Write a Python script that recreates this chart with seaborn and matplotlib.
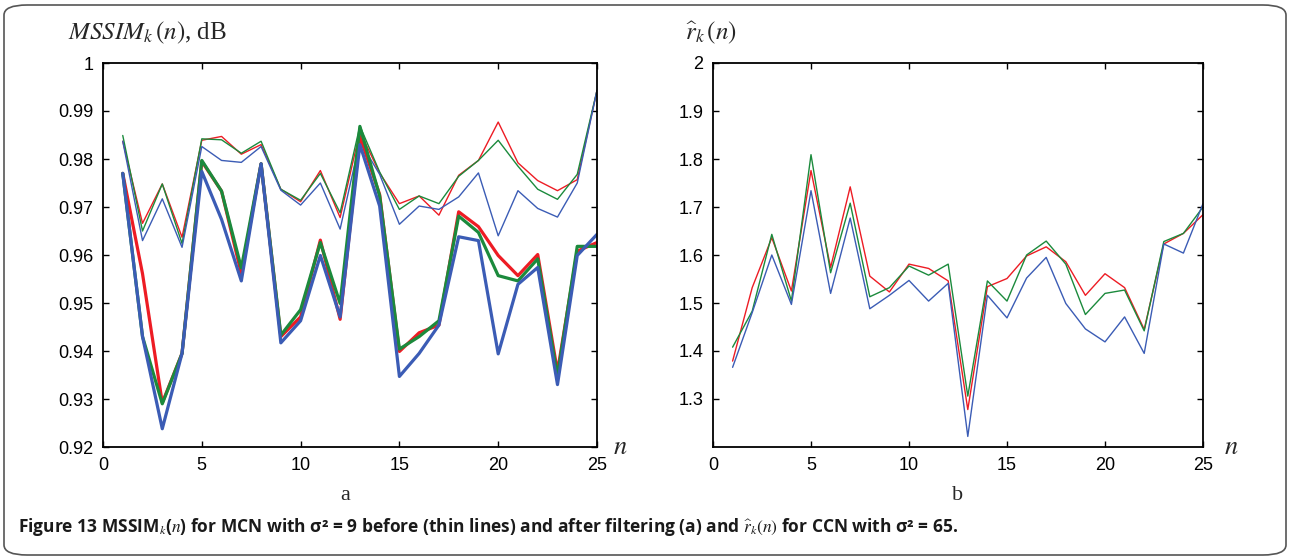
import numpy as np
import pandas as pd
import matplotlib
matplotlib.use("Agg")
import matplotlib.pyplot as plt
from matplotlib.patches import FancyBboxPatch
import seaborn as sns

n = list(range(1, 26))

# (a) MSSIM before filtering (thin lines)
before_red = [0.9837, 0.9666, 0.9748, 0.9637, 0.9839, 0.9847, 0.9810, 0.9830, 0.9737, 0.9711,
              0.9776, 0.9678, 0.9857, 0.9771, 0.9707, 0.9723, 0.9683, 0.9766, 0.9797, 0.9877,
              0.9792, 0.9755, 0.9734, 0.9757, 0.9943]
before_green = [0.9849, 0.9650, 0.9748, 0.9624, 0.9842, 0.9840, 0.9812, 0.9837, 0.9737, 0.9714,
                0.9770, 0.9688, 0.9869, 0.9773, 0.9695, 0.9723, 0.9707, 0.9764, 0.9797, 0.9839,
                0.9785, 0.9737, 0.9716, 0.9768, 0.9943]
before_blue = [0.9837, 0.9630, 0.9717, 0.9616, 0.9826, 0.9797, 0.9793, 0.9826, 0.9735, 0.9704,
               0.9750, 0.9654, 0.9837, 0.9768, 0.9664, 0.9702, 0.9695, 0.9721, 0.9771, 0.9640,
               0.9734, 0.9697, 0.9679, 0.9750, 0.9943]

# (a) MSSIM after filtering (thick lines)
after_red = [0.9770, 0.9561, 0.9292, 0.9395, 0.9795, 0.9733, 0.9561, 0.9790, 0.9430, 0.9471,
             0.9631, 0.9466, 0.9847, 0.9726, 0.9399, 0.9438, 0.9454, 0.9690, 0.9659, 0.9599,
             0.9557, 0.9601, 0.9357, 0.9608, 0.9626]
after_green = [0.9770, 0.9430, 0.9290, 0.9395, 0.9797, 0.9733, 0.9573, 0.9790, 0.9433, 0.9486,
               0.9626, 0.9499, 0.9868, 0.9723, 0.9404, 0.9430, 0.9463, 0.9681, 0.9647, 0.9557,
               0.9546, 0.9592, 0.9347, 0.9618, 0.9618]
after_blue = [0.9770, 0.9430, 0.9238, 0.9395, 0.9774, 0.9674, 0.9546, 0.9790, 0.9417, 0.9463,
              0.9599, 0.9471, 0.9830, 0.9702, 0.9347, 0.9395, 0.9454, 0.9638, 0.9630, 0.9394,
              0.9539, 0.9574, 0.9330, 0.9599, 0.9643]

# (b) r_k(n)
r_red = [1.379, 1.532, 1.636, 1.525, 1.776, 1.574, 1.742, 1.556, 1.523, 1.581,
         1.572, 1.546, 1.278, 1.534, 1.551, 1.598, 1.617, 1.586, 1.516, 1.561,
         1.532, 1.445, 1.623, 1.645, 1.684]
r_green = [1.408, 1.483, 1.643, 1.504, 1.809, 1.563, 1.708, 1.513, 1.532, 1.577,
           1.558, 1.581, 1.306, 1.546, 1.504, 1.600, 1.629, 1.581, 1.476, 1.520,
           1.527, 1.442, 1.628, 1.645, 1.700]
r_blue = [1.366, 1.480, 1.600, 1.497, 1.734, 1.520, 1.677, 1.488, 1.516, 1.547,
          1.504, 1.541, 1.222, 1.516, 1.469, 1.552, 1.595, 1.499, 1.446, 1.419,
          1.471, 1.395, 1.623, 1.604, 1.707]

RED = "#ed1c24"
GREEN = "#1b8a3c"
BLUE = "#3b5cb5"

sns.set_style("ticks")
plt.rcParams['font.family'] = ['Liberation Sans', 'DejaVu Sans']
plt.rcParams['mathtext.fontset'] = 'stix'

fig = plt.figure(figsize=(12.9, 5.6), dpi=100)
W, H = 1290, 560

# rounded frame around the figure
frame = FancyBboxPatch((4 / W, 5 / H), 1 - 8 / W, 1 - 10 / H,
                       boxstyle="round,pad=0,rounding_size=0.018",
                       transform=fig.transFigure, fill=False,
                       edgecolor="#555555", linewidth=1.2)
fig.patches.append(frame)

ax1 = fig.add_axes([103 / W, 1 - 447 / H, (597 - 103) / W, (447 - 63) / H])
ax2 = fig.add_axes([713 / W, 1 - 447 / H, (1203 - 713) / W, (447 - 63) / H])

for ys, c in [(before_red, RED), (before_green, GREEN), (before_blue, BLUE)]:
    sns.lineplot(x=n, y=ys, color=c, linewidth=1.0, ax=ax1)
for ys, c in [(after_red, RED), (after_green, GREEN), (after_blue, BLUE)]:
    sns.lineplot(x=n, y=ys, color=c, linewidth=2.3, ax=ax1)

for ys, c in [(r_red, RED), (r_green, GREEN), (r_blue, BLUE)]:
    sns.lineplot(x=n, y=ys, color=c, linewidth=1.0, ax=ax2)

ax1.set_xlim(0, 25)
ax1.set_ylim(0.92, 1.0)
ax1.set_yticks(np.arange(0.92, 1.0001, 0.01))
ax1.set_yticklabels(["0.92", "0.93", "0.94", "0.95", "0.96", "0.97", "0.98", "0.99", "1"])

ax2.set_xlim(0, 25)
ax2.set_ylim(1.2, 2.0)
ax2.set_yticks(np.arange(1.3, 2.0001, 0.1))
ax2.set_yticklabels(["1.3", "1.4", "1.5", "1.6", "1.7", "1.8", "1.9", "2"])

for ax in (ax1, ax2):
    ax.set_xticks([0, 5, 10, 15, 20, 25])
    ax.tick_params(direction="in", length=4, width=1, top=True, right=True,
                   labelsize=13, pad=7, colors="black")
    for s in ax.spines.values():
        s.set_visible(True)
        s.set_linewidth(1.3)
        s.set_color("black")
    ax.set_xlabel("")
    ax.set_ylabel("")

# axis titles
fig.text(68 / W, 1 - 33 / H, r"$\mathit{MSSIM}_{k}\,(n)$, dB", fontsize=18,
         family="Liberation Serif", va="center", ha="left")
fig.text(685 / W, 1 - 33 / H, r"$\widehat{r}_{k}\,(n)$", fontsize=18,
         va="center", ha="left")
fig.text(620 / W, 1 - 447 / H, r"$n$", fontsize=19, va="center", ha="center")
fig.text(1231 / W, 1 - 447 / H, r"$n$", fontsize=19, va="center", ha="center")
fig.text(345 / W, 1 - 496 / H, "a", fontsize=16, family="Liberation Serif",
         va="center", ha="center")
fig.text(958 / W, 1 - 496 / H, "b", fontsize=16, family="Liberation Serif",
         va="center", ha="center")

caption = (r"Figure 13 MSSIM$_{\mathit{k}}$($\mathit{n}$) for MCN with σ² = 9 "
           r"before (thin lines) and after filtering (a) and "
           r"$\widehat{r}_k\left(n\right)$ for CCN with σ² = 65.")
fig.text(18 / W, 1 - 527 / H, caption, fontsize=12.5, fontweight="bold",
         family="Open Sans", math_fontfamily="stix", va="center", ha="left",
         color="#1a1a1a")

fig.savefig("out.png", dpi=100)
